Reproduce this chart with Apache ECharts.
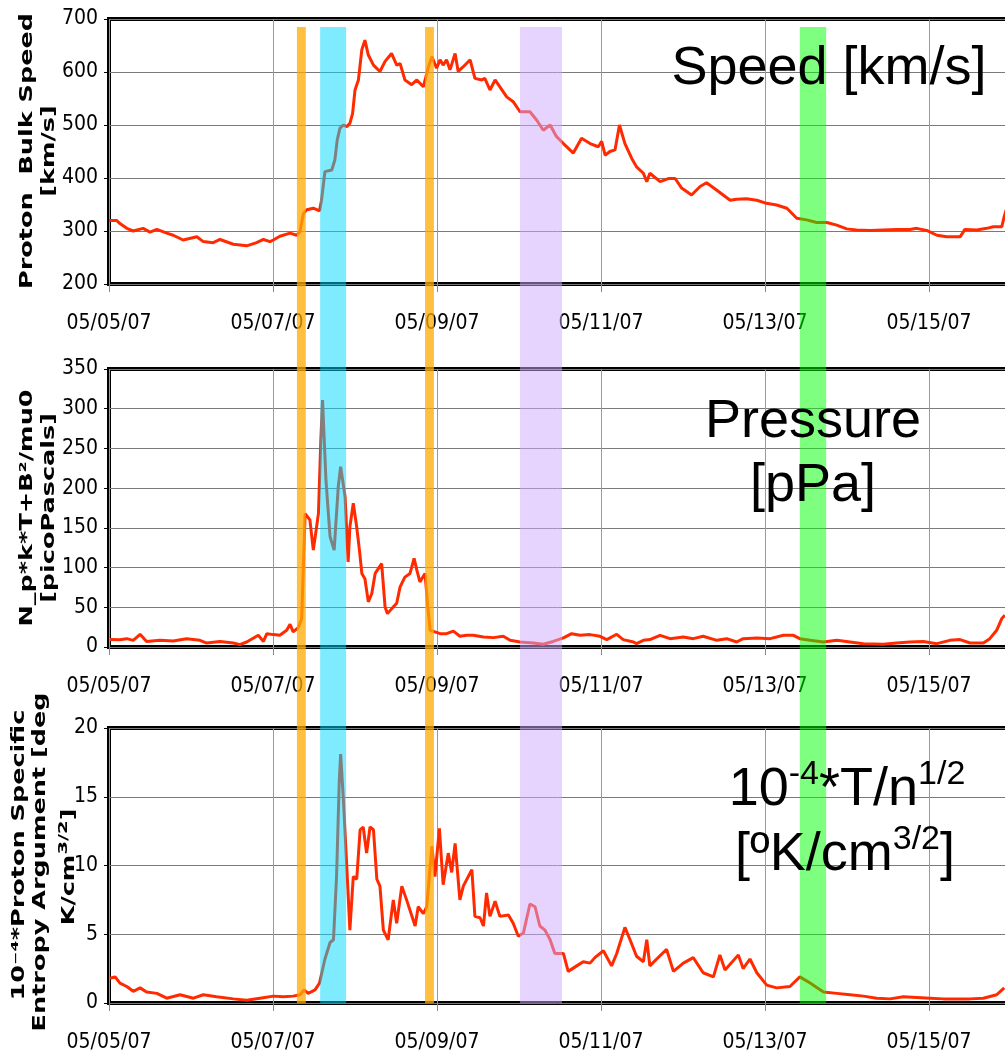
<!DOCTYPE html>
<html>
<head>
<meta charset="utf-8">
<script src="https://cdn.jsdelivr.net/npm/echarts@6/dist/echarts.min.js"></script>
<style>html,body{margin:0;padding:0;background:#fff;}#c{width:1005px;height:1059px;}</style>
</head>
<body>
<div id="c"></div>
<script>
// x values: hours since 05/05/07 00:00
const dateLabels = ['05/05/07','05/07/07','05/09/07','05/11/07','05/13/07','05/15/07','05/17/07'];

const speedHours = [0,2.2,3.2,5.2,7.1,10.0,12.0,14.0,16.9,18.8,21.7,25.7,27.6,30.5,32.5,36.4,40.3,43.2,45.2,47.1,48.1,50.0,53.0,54.9,55.9,56.9,57.9,59.8,61.6,62.2,63.2,65.2,66.1,66.8,67.6,68.6,69.6,70.5,71.3,72.0,73.0,74.0,74.9,75.9,77.4,79.3,80.8,82.7,84.2,85.2,86.6,88.6,90.1,92.0,93.5,94.5,95.9,96.9,97.8,98.8,99.8,101.3,102.2,103.7,105.7,107.1,109.1,110.0,111.5,113.0,114.4,116.4,118.3,120.3,123.2,125.2,127.1,129.1,131.0,133.0,135.9,138.3,140.8,143.2,144.2,145.2,146.6,148.1,149.4,151.0,153.0,154.4,156.4,157.4,158.3,161.3,163.7,165.7,167.6,170.5,173.0,174.9,177.9,181.8,183.7,186.6,189.6,192.0,195.4,198.4,201.3,204.2,207.1,210.1,213.0,215.9,218.8,222.7,226.6,230.5,234.4,236.4,239.3,242.3,245.2,249.1,250.5,254.0,256.9,258.8,261.3,262.0,262.6];
const speedValues = [320,320,314,305,300,305,298,303,296,292,283,289,280,278,284,275,272,278,284,280,283,290,296,292,299,333,340,343,338,358,412,415,434,472,494,500,497,503,522,566,585,642,660,632,613,601,620,635,613,616,585,576,585,572,610,629,607,623,613,623,604,635,601,610,623,588,585,588,566,585,572,553,544,525,525,509,490,500,478,465,447,475,465,459,469,443,450,453,500,465,437,421,409,393,409,393,399,399,381,368,384,391,377,358,360,361,358,353,349,343,324,321,316,316,311,304,302,301,302,303,303,305,301,292,289,289,303,302,305,308,308,327,340];

const pressureHours = [0.3,3.2,5.2,7.1,9.1,11.0,14.9,18.8,22.7,26.6,28.6,32.5,36.4,38.3,40.3,43.7,45.2,46.2,48.1,50.0,52.0,53.0,53.9,55.4,56.4,56.8,57.4,58.8,59.8,61.3,62.0,62.5,63.5,64.7,65.9,67.1,67.8,69.1,70.0,70.5,71.5,72.5,73.3,74.0,74.9,75.9,76.9,77.9,79.8,80.8,81.5,82.7,84.2,85.2,86.6,88.1,89.3,90.1,91.0,92.5,93.3,94.0,95.4,96.9,98.8,100.8,102.7,104.7,106.6,109.6,112.5,115.4,117.4,120.3,124.2,127.1,130.0,133.0,135.4,137.9,140.8,143.7,145.7,148.6,150.5,153.5,154.4,156.4,158.3,161.3,164.2,168.1,171.0,173.9,177.9,180.8,183.7,185.6,189.6,193.5,197.4,200.3,202.2,205.2,209.1,213.0,216.9,220.8,226.6,230.5,234.4,238.3,242.3,246.1,249.1,252.0,255.9,257.8,259.8,261.3,262.2];
const pressureValues = [9.3,9,10.5,8.4,16,7,8.4,7.6,10.5,8.4,5,7,5,3,6.3,14.7,7,16.8,15.6,14.7,21,28.6,19,24.4,35.8,90,168,160,122,168,261,311,210,139,122,202,227,189,107,151,181,151,122,92.6,86,56.8,67,92.6,105,50.5,42,48,55,75.7,88,92.6,111.5,96.8,82,92.6,50.5,21,19,16.8,16.8,20,13.5,14.7,14.7,12.6,11.8,13.5,8.4,6.3,5,3.4,7,11.4,16.8,14.7,15.6,13.5,9.3,16,9.3,6.3,4.2,8.4,9.3,14.7,10.5,12.6,10.5,13.5,8.4,10.5,6.3,10.5,11.4,10.5,14.7,14.7,10.5,8.4,6.3,8.4,6.3,4.2,3.4,5,6.3,7,4.2,8.4,9.3,5,5,10.5,21,35.8,40];

const entropyHours = [0.3,1.8,3.2,5.2,7.1,9.1,11.0,14.0,16.9,20.8,24.7,27.6,31.5,36.4,40.3,44.2,48.1,51.0,53.9,55.9,57.1,58.3,60.3,61.6,63.2,64.7,65.7,66.6,67.4,67.8,68.6,69.6,70.5,71.5,72.5,73.5,74.4,75.4,76.4,77.4,78.4,79.3,80.3,81.7,83.2,84.2,85.7,87.1,89.6,90.5,92.0,93.0,94.5,95.4,96.7,97.8,99.3,100.3,101.3,102.7,103.7,106.2,107.1,108.6,109.6,110.5,111.5,113.0,114.4,116.9,118.3,119.8,121.3,123.2,124.7,126.1,127.6,129.1,130.5,133.0,134.4,136.9,138.8,140.8,142.2,144.7,147.1,148.6,151.0,152.5,154.4,156.4,157.4,158.3,160.3,163.2,165.2,168.1,171.0,173.9,176.9,178.8,180.3,184.2,185.6,187.6,189.6,192.5,195.4,199.3,202.2,205.2,209.1,213.0,216.9,220.8,224.7,228.6,232.5,236.4,240.3,244.2,248.1,252.0,255.9,259.8,262.0];
const entropyValues = [1.8,1.9,1.45,1.2,0.85,1.1,0.8,0.7,0.35,0.6,0.35,0.6,0.45,0.3,0.2,0.35,0.5,0.45,0.5,0.6,0.95,0.7,0.95,1.45,3.2,4.4,4.6,9.2,16.2,18.1,14.8,9.9,5.3,9.2,9,12.6,12.8,10.9,12.8,12.6,9,8.5,5.3,4.6,7.5,5.8,8.5,7.5,5.6,7,6.5,7,11.4,9.2,12.7,8.6,10.9,9.5,11.6,7.5,8.5,9.7,6.3,6.2,5.6,8,6.3,7.4,6.3,6.4,5.8,4.85,5.1,7.2,7,5.6,5.3,4.6,3.6,3.6,2.3,2.7,3,2.9,3.3,3.8,2.7,3.6,5.5,4.6,3.4,3,4.6,2.7,3.2,3.9,2.3,2.9,3.3,2.2,1.9,3.5,2.4,3.5,2.5,3.2,2.2,1.3,1.1,1.2,1.9,1.45,0.8,0.7,0.6,0.5,0.35,0.3,0.45,0.4,0.35,0.3,0.3,0.3,0.35,0.6,1.1];

// highlight bands (hours)
const bandStart = [55.0, 61.8, 92.5, 120.3, 202.2];
const bandEnd   = [57.6, 69.4, 95.1, 132.6, 209.9];
const bandColor = ['rgba(255,170,0,0.75)','rgba(0,215,255,0.5)','rgba(255,170,0,0.75)','rgba(205,170,255,0.5)','rgba(0,255,0,0.5)'];
const bandTopSpeed = 685;   // top of bands in speed units (panel 1)
const bandBottomEntropy = 0; // bottom of bands in entropy units (panel 3)

const LINE_COLOR = '#ff2a00';
const tickFont = {fontFamily:'"DejaVu Sans Condensed","Liberation Sans Narrow",sans-serif', fontSize:21, color:'#000'};

function pairs(h, v){ return h.map((x,i)=>[x, v[i]]); }

const grids = [
  {left:109, right:-6, top:19, height:265},
  {left:109, right:-6, top:369, height:278},
  {left:109, right:-6, top:728, height:275}
].map(g=>Object.assign(g,{show:true, borderColor:'#000', borderWidth:4, backgroundColor:'transparent', containLabel:false, outerBoundsMode:'none'}));

const xAxes = [0,1,2].map(i=>({
  type:'value', gridIndex:i, min:0, max:264, interval:48,
  axisLine:{show:false},
  axisTick:{show:true, length:8, lineStyle:{color:'#888', width:1}},
  splitLine:{show:true, lineStyle:{color:'#9a9a9a', width:1}},
  axisLabel:Object.assign({margin:29, hideOverlap:false, formatter:v=> (v%48===0 ? dateLabels[v/48] : '')}, tickFont)
}));

const yRanges = [[200,700,100],[0,350,50],[0,20,5]];
const yAxes = yRanges.map((r,i)=>({
  type:'value', gridIndex:i, min:r[0], max:r[1], interval:r[2],
  axisLine:{show:false},
  axisTick:{show:true, length:5, lineStyle:{color:'#000', width:1}},
  splitLine:{show:true, lineStyle:{color:'#7a7a7a', width:1}},
  axisLabel:Object.assign({margin:11}, tickFont)
}));

const series = [
  pairs(speedHours, speedValues),
  pairs(pressureHours, pressureValues),
  pairs(entropyHours, entropyValues)
].map((d,i)=>({
  type:'line', xAxisIndex:i, yAxisIndex:i, data:d, showSymbol:false, animation:false,
  lineStyle:{color:LINE_COLOR, width:3}, z:3
}));

const chart = echarts.init(document.getElementById('c'), null, {renderer:'canvas'});
chart.setOption({
  animation:false,
  backgroundColor:'#fff',
  grid:grids, xAxis:xAxes, yAxis:yAxes, series:series
});

// graphic overlays
const titleFont = 'bold 17px "DejaVu Sans", Verdana, sans-serif';
function ytitle(text, x, y, rich){
  const st = {text:text, font:titleFont, fill:'#000', align:'center', verticalAlign:'middle', textAlign:'center', textVerticalAlign:'middle'};
  if (rich) st.rich = rich;
  return {type:'text', x:x, y:y, rotation:Math.PI/2, scaleX:1.5, scaleY:1, z:200, style:st};
}
const bigFont = '54px "Liberation Sans", Arial, sans-serif';
function big(text, x, y, rich){
  const st = {text:text, font:bigFont, fill:'#000', align:'center', verticalAlign:'middle', textAlign:'center', textVerticalAlign:'middle'};
  if (rich) st.rich = rich;
  return {type:'text', x:x, y:y, z:200, style:st};
}
const bigRich = {
  n:{fontSize:54, fontFamily:'"Liberation Sans", Arial, sans-serif', lineHeight:60, color:'#000'},
  s:{fontSize:34, fontFamily:'"Liberation Sans", Arial, sans-serif', lineHeight:60, padding:[0,0,30,0], color:'#000'}
};
const smallRich = {
  n:{font:titleFont, lineHeight:20, color:'#000'},
  s:{fontSize:13, fontWeight:'bold', fontFamily:'"DejaVu Sans", Verdana, sans-serif', lineHeight:20, padding:[0,0,12,0], color:'#000'}
};

const yTop = chart.convertToPixel({yAxisIndex:0}, bandTopSpeed);
const yBot = chart.convertToPixel({yAxisIndex:2}, bandBottomEntropy);
const bands = bandStart.map((s,i)=>{
  const x0 = chart.convertToPixel({xAxisIndex:0}, s);
  const x1 = chart.convertToPixel({xAxisIndex:0}, bandEnd[i]);
  return {type:'rect', z:100, shape:{x:x0, y:yTop, width:x1-x0, height:yBot-yTop}, style:{fill:bandColor[i]}};
});

chart.setOption({graphic:{elements:[].concat(bands, [
  ytitle('Proton  Bulk Speed', 28, 151),
  ytitle('[km/s]', 50, 151),
  ytitle('N_p*k*T+B²/mu0', 28, 508),
  ytitle('[picoPascals]', 50, 508),
  ytitle('10⁻⁴*Proton Specific', 20, 855),
  ytitle('Entropy Argument [deg', 41, 862),
  ytitle('{n|K/cm}{s|3/2}{n|]}', 70, 867, smallRich),
  big('Speed [km/s]', 829, 69),
  big('Pressure', 813, 422),
  big('[pPa]', 813, 486),
  big('{n|10}{s|-4}{n|*T/n}{s|1/2}', 847, 790, bigRich),
  big('{n|[ºK/cm}{s|3/2}{n|]}', 845, 855, bigRich)
])}});
</script>
</body>
</html>
